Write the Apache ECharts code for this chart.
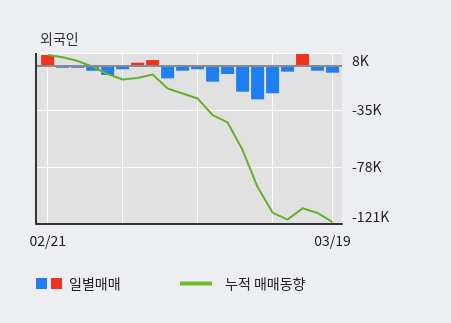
<!DOCTYPE html>
<html><head><meta charset="utf-8">
<script src="https://cdn.jsdelivr.net/npm/echarts@6/dist/echarts.min.js"></script>
<style>html,body{margin:0;padding:0;background:#eceef2;}#c{width:451px;height:323px;}</style>
</head><body><div id="c"></div>
<script>
// Daily net trading (K shares) — one bar per trading day
var dailyValues = [8.1, -1.6, -1.6, -3.8, -7.0, -2.7, 2.3, 4.3, -9.6, -3.8, -2.7, -12.1, -6.3, -19.7, -25.5, -20.9, -4.5, 8.9, -3.8, -5.3];
// Cumulative net trading (K shares)
var cumulativeValues = [6.7, 5.0, 2.2, -2.2, -7.7, -11.9, -10.7, -8.1, -18.7, -22.5, -26.3, -38.8, -44.4, -65.3, -93.4, -112.7, -118.0, -109.5, -113.0, -119.9];
// x tick labels and the day index each belongs to
var xTickLabels = ['02/21', '03/19'];
var xTickIndex = [0, 19];
// vertical grid positions (day index)
var xGridIndex = [0, 5, 10, 15, 19];
// right axis ticks
var yMin = -121, yMax = 8, yStep = 43;

var barData = dailyValues.map(function (v, i) {
  return { value: [i, v], itemStyle: { color: v >= 0 ? '#f0321e' : '#1f7ff0' } };
});
var lineData = cumulativeValues.map(function (v, i) { return [i, v]; });

var FONT = 'Noto Sans CJK KR';
var chart = echarts.init(document.getElementById('c'), null, { renderer: 'canvas' });
chart.setOption({
  backgroundColor: '#eceef2',
  animation: false,
  textStyle: { fontFamily: FONT },
  title: {
    text: '외국인', left: 35, top: 27,
    textStyle: { fontSize: 14, fontWeight: 'normal', color: '#333', fontFamily: FONT }
  },
  grid: {
    left: 36, right: 109, top: 53.3, bottom: 99.5,
    show: true, backgroundColor: '#e1e1e1', borderWidth: 0
  },
  xAxis: {
    type: 'value', min: -0.78, max: 19.63,
    axisLine: { show: true, onZero: false, lineStyle: { color: '#333', width: 2 } },
    axisTick: { show: false, customValues: xGridIndex },
    splitLine: { show: true, lineStyle: { color: '#ffffff', width: 1 } },
    axisLabel: {
      customValues: xTickIndex, margin: 10, color: '#222', fontSize: 14, fontFamily: FONT,
      formatter: function (v) { var k = xTickIndex.indexOf(Math.round(v)); return k >= 0 ? xTickLabels[k] : ''; }
    }
  },
  yAxis: [{
    type: 'value', position: 'right', min: yMin, max: yMax, interval: yStep,
    axisLine: { show: false }, axisTick: { show: false },
    splitLine: { show: true, lineStyle: { color: '#ffffff', width: 1 } },
    axisLabel: {
      margin: 10, color: '#222', fontSize: 14, fontFamily: FONT,
      verticalAlignMinLabel: 'bottom', verticalAlignMaxLabel: 'top',
      formatter: function (v) { return v + 'K'; }
    }
  }, {
    type: 'value', position: 'left', min: -119.6, max: 9.4, show: false,
    splitLine: { show: false }
  }],
  graphic: [
    { type: 'line', shape: { x1: 36, y1: 53, x2: 36, y2: 224 }, style: { stroke: '#333', lineWidth: 2 }, z: 10 },
    { type: 'rect', shape: { x: 36, y: 278, width: 11, height: 11 }, style: { fill: '#1f7ff0' } },
    { type: 'rect', shape: { x: 51, y: 278, width: 11, height: 11 }, style: { fill: '#f0321e' } },
    { type: 'text', x: 69, y: 283.5, style: { text: '일별매매', font: '14px "Noto Sans CJK KR"', fill: '#222', textVerticalAlign: 'middle' } },
    { type: 'rect', shape: { x: 180, y: 281.5, width: 32, height: 4 }, style: { fill: '#6cbd2a' } },
    { type: 'text', x: 225, y: 283.5, style: { text: '누적 매매동향', font: '14px "Noto Sans CJK KR"', fill: '#222', textVerticalAlign: 'middle' } }
  ],
  series: [{
    name: '일별매매', type: 'bar', xAxisIndex: 0, yAxisIndex: 1,
    barWidth: 13, data: barData, z: 2,
    markLine: {
      silent: true, symbol: 'none', label: { show: false },
      lineStyle: { color: '#8a8a8a', width: 2, type: 'solid' },
      data: [{ yAxis: 0 }]
    }
  }, {
    name: '누적 매매동향', type: 'line', xAxisIndex: 0, yAxisIndex: 0,
    data: lineData, symbol: 'none', smooth: false, z: 3,
    lineStyle: { color: '#66b02e', width: 2 }
  }]
});
</script></body></html>
